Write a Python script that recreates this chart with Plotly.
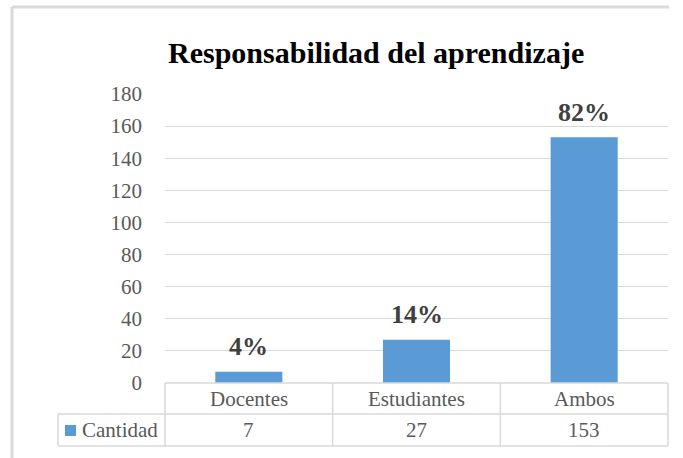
import plotly.graph_objects as go

categories = ["Docentes", "Estudiantes", "Ambos"]
values = [7, 27, 153]
series_name = "Cantidad"
title_text = "Responsabilidad del aprendizaje"
y_ticks = [0, 20, 40, 60, 80, 100, 120, 140, 160, 180]

total = sum(values)
pct_labels = [f"{round(v / total * 100)}%" for v in values]

W, H = 683, 458
L, R, T, B = 165, 668, 94, 383   # plot area in pixels
PW, PH = R - L, B - T

def px(x):
    return (x - L) / PW

def py(y):
    return (B - y) / PH

FONT = "Times New Roman"
GRID = "#d9d9d9"
BAR = "#5B9BD5"
TXT = "#595959"

fig = go.Figure()
fig.add_trace(go.Bar(
    x=list(range(len(categories))), y=values, name=series_name,
    marker=dict(color=BAR, line=dict(width=0)), width=0.4, showlegend=False,
    hoverinfo="skip",
))

shapes = []
annotations = []

# data labels
for i, (v, lab) in enumerate(zip(values, pct_labels)):
    annotations.append(dict(x=i, y=v, xref="x", yref="y", text=f"<b>{lab}</b>",
                            showarrow=False, yanchor="middle", yshift=25,
                            font=dict(family=FONT, size=26, color="#404040")))

def line(x0, y0, x1, y1, w=1.5, color=GRID):
    shapes.append(dict(type="line", xref="paper", yref="paper",
                       x0=px(x0), y0=py(y0), x1=px(x1), y1=py(y1),
                       line=dict(color=color, width=w), layer="above"))

# data table
row1, row2, row3 = 383, 414, 446
line(L, row1, R, row1)
line(58, row2, R, row2)
line(58, row3, R, row3)
line(58, row2, 58, row3)
n = len(categories)
for k in range(n + 1):
    xk = L + PW * k / n
    line(xk, row1, xk, row3)

for i, (c, v) in enumerate(zip(categories, values)):
    annotations.append(dict(x=i, y=py((row1 + row2) / 2), xref="x", yref="paper",
                            text=c, showarrow=False, yanchor="middle",
                            font=dict(family=FONT, size=21, color=TXT)))
    annotations.append(dict(x=i, y=py((row2 + row3) / 2), xref="x", yref="paper",
                            text=str(v), showarrow=False, yanchor="middle",
                            font=dict(family=FONT, size=21, color=TXT)))

# legend key in table
shapes.append(dict(type="rect", xref="paper", yref="paper",
                   x0=px(65), x1=px(76), y0=py(425), y1=py(436),
                   fillcolor=BAR, line=dict(width=0)))
annotations.append(dict(x=px(80), y=py((row2 + row3) / 2), xref="paper", yref="paper",
                        text=series_name, showarrow=False, xanchor="left", yanchor="middle",
                        font=dict(family=FONT, size=21, color=TXT)))

# title
annotations.append(dict(x=px(376), y=py(52), xref="paper", yref="paper",
                        text=f"<b>{title_text}</b>", showarrow=False,
                        xanchor="center", yanchor="middle",
                        font=dict(family=FONT, size=30, color="#000000")))

# chart frame (top and left edges)
line(12, 7, 669, 7, w=3)
line(12, 7, 12, 460, w=3)

fig.update_layout(
    width=W, height=H,
    margin=dict(l=L, r=W - R, t=T, b=H - B, pad=0),
    paper_bgcolor="white", plot_bgcolor="white",
    font=dict(family=FONT),
    xaxis=dict(range=[-0.5, n - 0.5], showticklabels=False, showgrid=False,
               zeroline=False, showline=False, ticks=""),
    yaxis=dict(range=[0, 180], tickvals=y_ticks, showgrid=True, gridcolor=GRID,
               gridwidth=1.3, zeroline=False, showline=False, ticks="",
               ticklabelstandoff=22,
               tickfont=dict(family=FONT, size=21, color=TXT)),
    shapes=shapes, annotations=annotations, bargap=0.6,
)

fig.write_html("out.html", config={"displayModeBar": False},
               post_script="document.body.style.margin='0';")
